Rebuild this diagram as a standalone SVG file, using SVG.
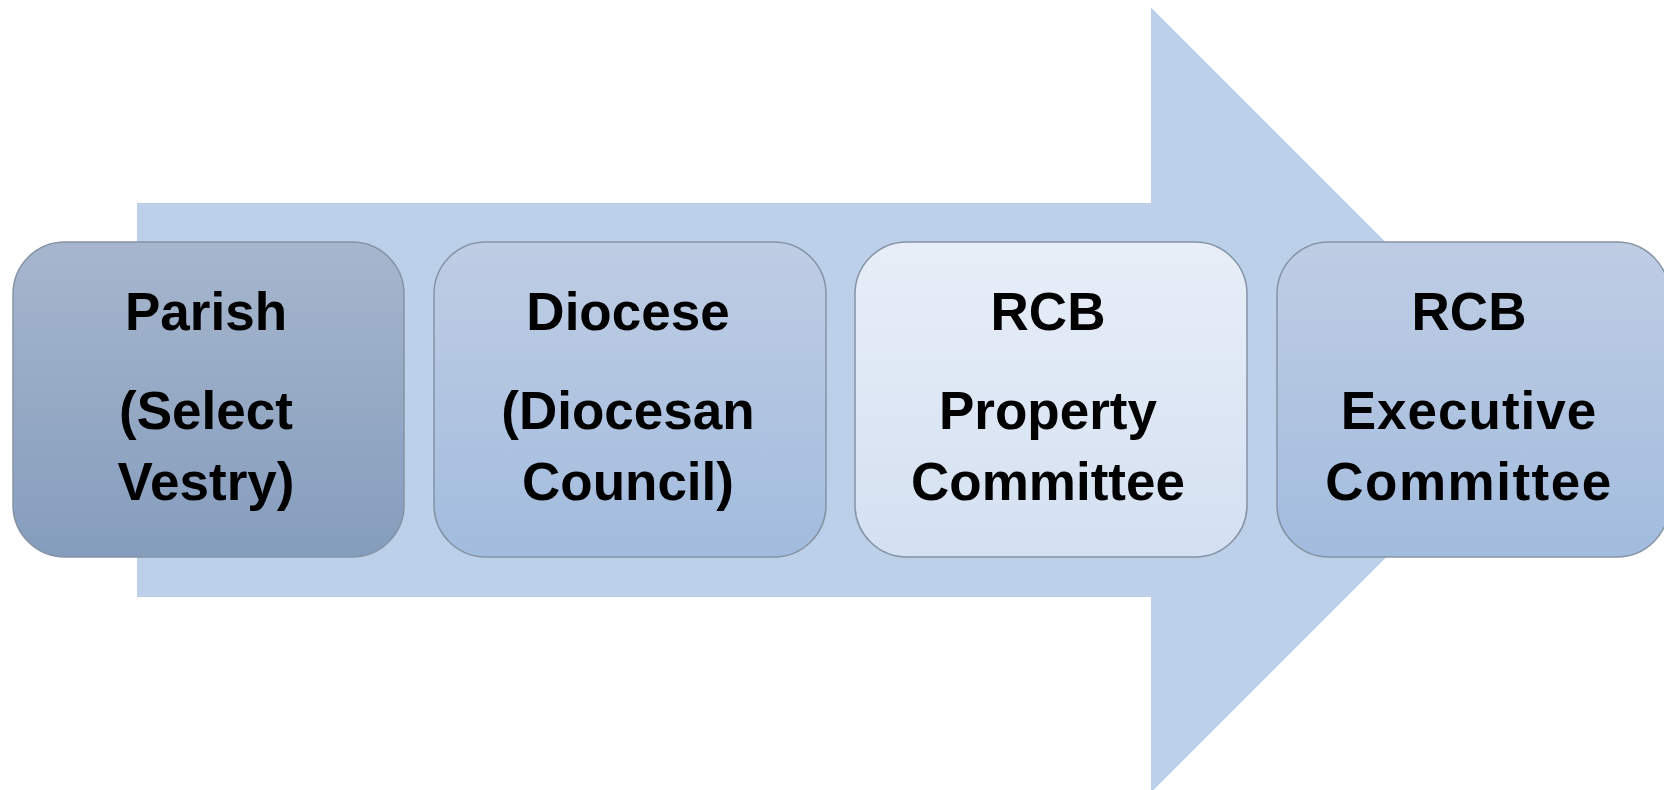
<svg xmlns="http://www.w3.org/2000/svg" width="1664" height="790" viewBox="0 0 1664 790">
  <defs>
    <linearGradient id="gDark" x1="0" y1="0" x2="0" y2="1">
      <stop offset="0" stop-color="#a6b6cd"/>
      <stop offset="1" stop-color="#859dbd"/>
    </linearGradient>
    <linearGradient id="gMid" x1="0" y1="0" x2="0" y2="1">
      <stop offset="0" stop-color="#bfcde4"/>
      <stop offset="1" stop-color="#a2bcde"/>
    </linearGradient>
    <linearGradient id="gLight" x1="0" y1="0" x2="0" y2="1">
      <stop offset="0" stop-color="#e7eef8"/>
      <stop offset="1" stop-color="#d4e0f1"/>
    </linearGradient>
    <style>
      .box { stroke: #8593a5; stroke-width: 1.5; }
      .lbl { font-family: "Liberation Sans", Arial, sans-serif; font-weight: bold; font-size: 53px; fill: #000; text-anchor: middle; }
    </style>
  </defs>

  <rect width="1664" height="790" fill="#ffffff"/>

  <!-- background flow arrow -->
  <g id="connectors">
    <polygon points="137,203 1151,203 1151,7.5 1543.5,400 1151,792.5 1151,597 137,597" fill="#bcd0e9"/>
  </g>

  <g id="parish">
    <rect class="box" x="13" y="242" width="391" height="315" rx="52" fill="url(#gDark)"/>
    <text class="lbl" x="206" y="330">Parish</text>
    <text class="lbl" x="206" y="429">(Select</text>
    <text class="lbl" x="206" y="500">Vestry)</text>
  </g>

  <g id="diocese">
    <rect class="box" x="434" y="242" width="392" height="315" rx="52" fill="url(#gMid)"/>
    <text class="lbl" x="628" y="330">Diocese</text>
    <text class="lbl" x="628" y="429">(Diocesan</text>
    <text class="lbl" x="628" y="500">Council)</text>
  </g>

  <g id="rcb-property">
    <rect class="box" x="855" y="242" width="392" height="315" rx="52" fill="url(#gLight)"/>
    <text class="lbl" x="1048" y="330">RCB</text>
    <text class="lbl" x="1048" y="429">Property</text>
    <text class="lbl" x="1048" y="500">Committee</text>
  </g>

  <g id="rcb-executive">
    <rect class="box" x="1277" y="242" width="392" height="315" rx="52" fill="url(#gMid)"/>
    <text class="lbl" x="1469" y="330">RCB</text>
    <text class="lbl" x="1469" y="429" letter-spacing="1">Executive</text>
    <text class="lbl" x="1469" y="500" letter-spacing="1.5">Committee</text>
  </g>
</svg>
